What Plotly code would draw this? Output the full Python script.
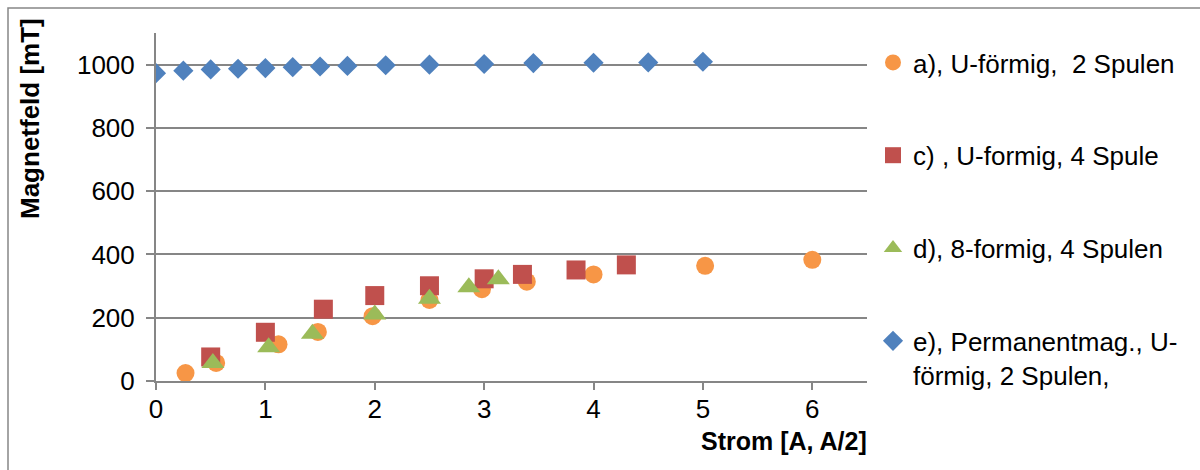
import plotly.graph_objects as go

# Magnetfeld gegen Strom für vier Aufbauten
a_strom = [0.27, 0.55, 1.12, 1.48, 1.98, 2.50, 2.98, 3.39, 4.00, 5.02, 6.00]
a_feld = [25, 57, 116, 155, 205, 256, 290, 314, 337, 364, 383]

c_strom = [0.50, 1.00, 1.53, 2.00, 2.50, 3.00, 3.35, 3.84, 4.30]
c_feld = [76, 154, 227, 270, 301, 323, 337, 351, 367]

d_strom = [0.52, 1.03, 1.43, 2.00, 2.50, 2.86, 3.13]
d_feld = [57, 107, 149, 210, 260, 296, 322]

e_strom = [0, 0.25, 0.5, 0.75, 1.0, 1.25, 1.5, 1.75, 2.1, 2.5, 3.0, 3.45, 4.0, 4.5, 5.0]
e_feld = [973, 981, 985, 987, 989, 992, 994, 996, 998, 1000, 1002, 1005, 1006, 1007, 1009]

namen = [
    "a), U-förmig,  2 Spulen",
    "c) , U-formig, 4 Spule",
    "d), 8-formig, 4 Spulen",
    "e), Permanentmag., U-<br>förmig, 2 Spulen,",
]

x_ticks = [0, 1, 2, 3, 4, 5, 6]
y_ticks = [0, 200, 400, 600, 800, 1000]

FONT = "Liberation Sans, Arial, sans-serif"
GRAU = "#868686"
FS = 26

fig = go.Figure()
serien = [
    (a_strom, a_feld, "circle", 18, "#F79646"),
    (c_strom, c_feld, "square", 19, "#C0504D"),
    (d_strom, d_feld, "triangle-up", 20, "#9BBB59"),
    (e_strom, e_feld, "diamond", 15.5, "#4F81BD"),
]
for i, (xs, ys, sym, size, col) in enumerate(serien):
    fig.add_trace(go.Scatter(
        x=xs, y=ys, mode="markers", name=namen[i], legendgroup=f"g{i}",
        marker=dict(symbol=sym, size=size, color=col, line=dict(width=0)),
    ))

W, H = 1200, 470
ML, MR, MT, MB = 156, 333, 33, 89
pw = W - ML - MR
ph = H - MT - MB

def px_x(p):
    return (p - ML) / pw

def px_y(p):
    return 1 - (p - MT) / ph

fig.update_layout(
    width=W, height=H,
    margin=dict(l=ML, r=MR, t=MT, b=MB, pad=0),
    paper_bgcolor="white", plot_bgcolor="white",
    font=dict(family=FONT, size=FS, color="black"),
    showlegend=True,
    legend=dict(
        x=px_x(873), y=px_y(39), xanchor="left", yanchor="top",
        font=dict(family=FONT, size=FS, color="black"),
        tracegroupgap=56, valign="top", itemwidth=30,
        bgcolor="rgba(0,0,0,0)", maxheight=470,
    ),
    xaxis=dict(
        range=[0, 6.5], tickvals=x_ticks, ticktext=[str(v) for v in x_ticks],
        showgrid=False, zeroline=False,
        showline=True, linecolor=GRAU, linewidth=2,
        ticks="outside", ticklen=7, tickwidth=2, tickcolor=GRAU,
        tickfont=dict(family=FONT, size=FS, color="black"),
        ticklabelstandoff=-3,
    ),
    yaxis=dict(
        range=[0, 1100], tickvals=y_ticks, ticktext=[str(v) for v in y_ticks],
        showgrid=True, gridcolor=GRAU, gridwidth=2, zeroline=False,
        showline=True, linecolor=GRAU, linewidth=2,
        ticks="outside", ticklen=8, tickwidth=2, tickcolor=GRAU,
        tickfont=dict(family=FONT, size=FS, color="black"),
        ticklabelstandoff=6,
    ),
    annotations=[
        dict(text="<b>Magnetfeld [mT]</b>", textangle=-90, xref="paper", yref="paper",
             x=px_x(30), y=px_y(119), xanchor="center", yanchor="middle",
             showarrow=False, font=dict(family=FONT, size=FS, color="black")),
        dict(text="<b>Strom [A, A/2]</b>", xref="paper", yref="paper",
             x=px_x(869), y=px_y(441), xanchor="right", yanchor="middle",
             showarrow=False, font=dict(family=FONT, size=FS - 1, color="black")),
    ],
    shapes=[
        dict(type="rect", xref="paper", yref="paper",
             x0=px_x(8), x1=px_x(1220), y0=px_y(490), y1=px_y(8),
             line=dict(color=GRAU, width=1.5), fillcolor="rgba(0,0,0,0)", layer="below"),
    ],
)

fig.write_html("out.html")
